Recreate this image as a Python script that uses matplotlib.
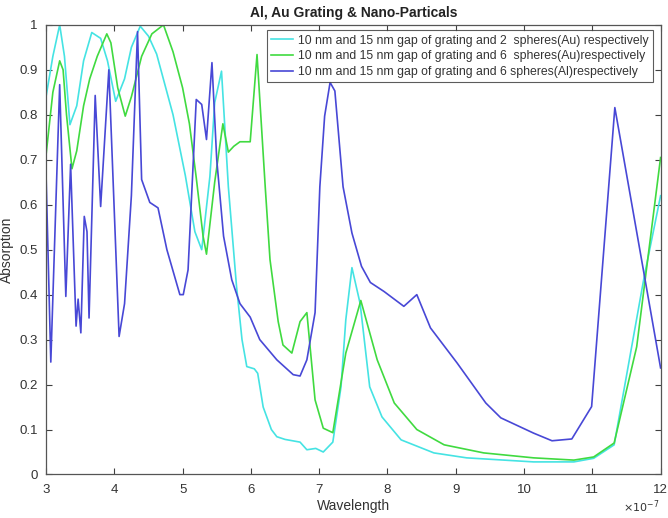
import matplotlib
matplotlib.use("Agg")
import matplotlib.pyplot as plt

plt.rcParams['font.family'] = ['Liberation Sans', 'DejaVu Sans']

# Wavelength in units of 1e-7 m
cyan_x = [3.0, 3.1, 3.2, 3.27, 3.35, 3.45, 3.55, 3.67, 3.8, 3.9, 4.02, 4.15, 4.25, 4.38,
          4.5, 4.62, 4.86, 5.04, 5.18, 5.28, 5.4, 5.47, 5.57, 5.67, 5.79, 5.87, 5.94,
          6.05, 6.1, 6.18, 6.3, 6.38, 6.5, 6.72, 6.82, 6.95, 7.06, 7.2, 7.32, 7.39,
          7.48, 7.6, 7.74, 7.92, 8.2, 8.68, 9.16, 10.14, 10.73, 11.02, 11.32, 11.76, 12.0]
cyan_y = [0.84, 0.93, 1.0, 0.93, 0.778, 0.82, 0.92, 0.983, 0.97, 0.92, 0.83, 0.88, 0.95, 0.997,
          0.975, 0.935, 0.80, 0.665, 0.54, 0.50, 0.663, 0.827, 0.897, 0.64, 0.418, 0.30, 0.24,
          0.235, 0.225, 0.15, 0.10, 0.084, 0.078, 0.072, 0.055, 0.058, 0.05, 0.072, 0.195, 0.344,
          0.46, 0.38, 0.195, 0.128, 0.077, 0.048, 0.037, 0.028, 0.028, 0.036, 0.066, 0.44, 0.62]

green_x = [3.0, 3.1, 3.2, 3.25, 3.3, 3.38, 3.45, 3.55, 3.64, 3.75, 3.89, 3.95, 4.05, 4.16,
           4.25, 4.4, 4.55, 4.72, 4.86, 5.0, 5.1, 5.2, 5.3, 5.35, 5.47, 5.59, 5.67, 5.75,
           5.84, 5.99, 6.09, 6.21, 6.28, 6.4, 6.47, 6.6, 6.72, 6.82, 6.94, 7.06, 7.2, 7.39,
           7.61, 7.85, 8.1, 8.43, 8.83, 9.41, 10.14, 10.73, 11.02, 11.32, 11.65, 12.0]
green_y = [0.71, 0.85, 0.92, 0.9, 0.8, 0.68, 0.72, 0.82, 0.88, 0.93, 0.98, 0.96, 0.86, 0.797,
           0.84, 0.93, 0.98, 1.0, 0.94, 0.86, 0.78, 0.66, 0.53, 0.49, 0.65, 0.78, 0.717, 0.73,
           0.74, 0.74, 0.934, 0.64, 0.478, 0.34, 0.288, 0.27, 0.34, 0.36, 0.166, 0.103, 0.093, 0.27,
           0.387, 0.255, 0.159, 0.10, 0.066, 0.048, 0.037, 0.032, 0.039, 0.07, 0.284, 0.705]

blue_x = [3.0, 3.07, 3.2, 3.29, 3.36, 3.44, 3.47, 3.51, 3.56, 3.6, 3.63, 3.72, 3.8, 3.92,
          4.07, 4.15, 4.25, 4.34, 4.4, 4.52, 4.64, 4.77, 4.96, 5.01, 5.08, 5.2, 5.28, 5.35,
          5.43, 5.5, 5.6, 5.72, 5.84, 5.99, 6.13, 6.38, 6.62, 6.72, 6.82, 6.94, 7.01, 7.08,
          7.16, 7.23, 7.35, 7.48, 7.62, 7.75, 7.95, 8.24, 8.43, 8.63, 9.02, 9.44, 9.66,
          10.14, 10.41, 10.70, 10.99, 11.33, 12.0]
blue_y = [0.67, 0.25, 0.867, 0.396, 0.69, 0.33, 0.39, 0.315, 0.574, 0.54, 0.348, 0.843, 0.596, 0.90,
          0.307, 0.38, 0.62, 0.985, 0.656, 0.605, 0.593, 0.50, 0.40, 0.40, 0.455, 0.834, 0.823, 0.745,
          0.916, 0.70, 0.53, 0.433, 0.38, 0.35, 0.30, 0.255, 0.222, 0.219, 0.255, 0.36, 0.64, 0.797,
          0.872, 0.853, 0.64, 0.537, 0.463, 0.427, 0.407, 0.374, 0.40, 0.326, 0.248, 0.159, 0.126,
          0.092, 0.075, 0.079, 0.151, 0.816, 0.237]

x_ticks = [3, 4, 5, 6, 7, 8, 9, 10, 11, 12]
y_ticks = [0, 0.1, 0.2, 0.3, 0.4, 0.5, 0.6, 0.7, 0.8, 0.9, 1]
y_tick_labels = ['0', '0.1', '0.2', '0.3', '0.4', '0.5', '0.6', '0.7', '0.8', '0.9', '1']

labels = ["10 nm and 15 nm gap of grating and 2  spheres(Au) respectively",
          "10 nm and 15 nm gap of grating and 6  spheres(Au)respectively",
          "10 nm and 15 nm gap of grating and 6 spheres(Al)respectively"]

fig = plt.figure(figsize=(6.68, 5.18), dpi=100)
ax = fig.add_axes([0.0689, 0.084, 0.920, 0.868])

ax.plot(cyan_x, cyan_y, color='#45E3E3', lw=1.2, label=labels[0])
ax.plot(green_x, green_y, color='#40DA40', lw=1.2, label=labels[1])
ax.plot(blue_x, blue_y, color='#4848D6', lw=1.2, label=labels[2])

ax.set_xlim(3, 12)
ax.set_ylim(0, 1)
ax.set_xticks(x_ticks)
ax.set_xticklabels([str(t) for t in x_ticks])
ax.set_yticks(y_ticks)
ax.set_yticklabels(y_tick_labels)

ax.tick_params(direction='in', top=True, right=True, length=4, width=0.8,
               labelsize=9.5, colors='#404040', labelcolor='#333333')
ax.tick_params(axis='x', pad=7)
ax.tick_params(axis='y', pad=6)
for s in ax.spines.values():
    s.set_color('#555555')
    s.set_linewidth(0.9)

ax.text(0.998, -0.082, r'$\times10^{-7}$', transform=ax.transAxes, ha='right', va='baseline',
        fontsize=8, color='#333333')

ax.set_title("Al, Au Grating & Nano-Particals", fontsize=10, fontweight='bold', pad=6, color='#222222')
ax.set_xlabel("Wavelength", fontsize=10, color='#333333', labelpad=2)
ax.set_ylabel("Absorption", fontsize=10, color='#333333', labelpad=4)

leg = ax.legend(loc='upper right', bbox_to_anchor=(0.988, 0.988), borderaxespad=0,
                fontsize=8.8, frameon=True, fancybox=False, handlelength=1.8,
                handletextpad=0.4, borderpad=0.35, labelspacing=0.3)
leg.get_frame().set_edgecolor('#333333')
leg.get_frame().set_linewidth(0.8)
for t in leg.get_texts():
    t.set_color('#333333')

fig.savefig("out.png", dpi=100)
